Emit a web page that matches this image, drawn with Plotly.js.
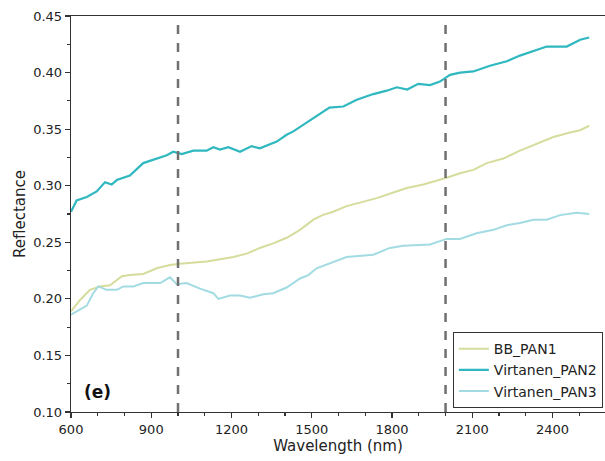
<!DOCTYPE html>
<html>
<head>
<meta charset="utf-8">
<script src="https://cdn.plot.ly/plotly-3.0.1.min.js"></script>
<style>html,body{margin:0;padding:0;background:#fff;}#chart{width:605px;height:461px;}</style>
</head>
<body>
<div id="chart"></div>
<script>
// Series names
const seriesNames = ["BB_PAN1", "Virtanen_PAN2", "Virtanen_PAN3"];

// BB_PAN1
const wlPan1 = [600, 634, 671, 708, 746, 790, 820, 870, 920, 970, 1007, 1057, 1107, 1157, 1207, 1257, 1306, 1356, 1406, 1456, 1506, 1540, 1580, 1630, 1693, 1743, 1805, 1855, 1917, 1979, 2004, 2054, 2104, 2154, 2216, 2278, 2341, 2403, 2465, 2503, 2537];
const refPan1 = [0.189, 0.199, 0.208, 0.211, 0.212, 0.220, 0.221, 0.222, 0.227, 0.230, 0.231, 0.232, 0.233, 0.235, 0.237, 0.240, 0.245, 0.249, 0.254, 0.261, 0.270, 0.274, 0.277, 0.282, 0.286, 0.289, 0.294, 0.298, 0.301, 0.305, 0.307, 0.311, 0.314, 0.320, 0.324, 0.331, 0.337, 0.343, 0.347, 0.349, 0.353];

// Virtanen_PAN2
const wlPan2 = [600, 621, 659, 696, 727, 752, 771, 820, 870, 908, 958, 982, 1014, 1057, 1107, 1132, 1157, 1188, 1232, 1275, 1306, 1369, 1406, 1431, 1481, 1531, 1566, 1618, 1668, 1730, 1780, 1818, 1857, 1898, 1942, 1979, 2017, 2054, 2104, 2166, 2229, 2278, 2328, 2378, 2453, 2503, 2537];
const refPan2 = [0.277, 0.287, 0.290, 0.295, 0.303, 0.301, 0.305, 0.309, 0.320, 0.323, 0.327, 0.330, 0.328, 0.331, 0.331, 0.334, 0.332, 0.334, 0.330, 0.335, 0.333, 0.339, 0.345, 0.348, 0.356, 0.364, 0.369, 0.370, 0.376, 0.381, 0.384, 0.387, 0.385, 0.390, 0.389, 0.392, 0.398, 0.400, 0.401, 0.406, 0.410, 0.415, 0.419, 0.423, 0.423, 0.429, 0.431];

// Virtanen_PAN3
const wlPan3 = [600, 659, 683, 702, 733, 771, 796, 833, 870, 933, 970, 995, 1032, 1082, 1132, 1151, 1194, 1232, 1269, 1319, 1356, 1406, 1456, 1487, 1518, 1550, 1580, 1630, 1730, 1792, 1842, 1904, 1942, 2004, 2054, 2116, 2179, 2229, 2278, 2328, 2378, 2428, 2490, 2537];
const refPan3 = [0.186, 0.194, 0.205, 0.211, 0.208, 0.208, 0.211, 0.211, 0.214, 0.214, 0.219, 0.213, 0.214, 0.209, 0.205, 0.200, 0.203, 0.203, 0.201, 0.204, 0.205, 0.210, 0.218, 0.221, 0.227, 0.230, 0.233, 0.237, 0.239, 0.245, 0.247, 0.248, 0.248, 0.253, 0.253, 0.258, 0.261, 0.265, 0.267, 0.270, 0.270, 0.274, 0.276, 0.275];

// Band boundaries (dashed lines)
const bandLines = [1000, 2000];

// Ticks
const xTicks = [600, 900, 1200, 1500, 1800, 2100, 2400];
const yTicks = [0.10, 0.15, 0.20, 0.25, 0.30, 0.35, 0.40, 0.45];

const colors = ["#d6dc9c", "#2fb8bf", "#a2dbe2"];
const widths = [2, 2.2, 2];

const xs = [wlPan1, wlPan2, wlPan3];
const ys = [refPan1, refPan2, refPan3];

const traces = seriesNames.map((n, i) => ({
  type: "scatter", mode: "lines", name: n,
  x: xs[i], y: ys[i],
  line: {color: colors[i], width: widths[i]}
}));

const font = "DejaVu Sans, sans-serif";

const layout = {
  width: 605, height: 461,
  margin: {l: 71, r: 0, t: 16, b: 49},
  paper_bgcolor: "#fff", plot_bgcolor: "#fff",
  font: {family: font, size: 13, color: "#222"},
  showlegend: true,
  legend: {
    x: 0.996, xanchor: "right", y: 0.01, yanchor: "bottom",
    bordercolor: "#333", borderwidth: 1, bgcolor: "#fff",
    font: {family: font, size: 14, color: "#222"},
    tracegroupgap: 0
  },
  xaxis: {
    range: [600, 2596],
    tickvals: xTicks, ticktext: xTicks.map(String),
    ticks: "outside", ticklen: 5, tickwidth: 1.2, tickcolor: "#333",
    showline: true, linecolor: "#333", linewidth: 1.3, mirror: true,
    showgrid: false, zeroline: false,
    minor: {dtick: 100, tick0: 600, ticks: "outside", ticklen: 3, tickcolor: "#333", showgrid: false},
    title: {text: "Wavelength (nm)", font: {family: font, size: 15, color: "#222"}, standoff: 4},
    tickfont: {family: font, size: 13, color: "#222"}
  },
  yaxis: {
    range: [0.10, 0.45],
    tickvals: yTicks, ticktext: yTicks.map(v => v.toFixed(2)),
    ticks: "outside", ticklen: 5, tickwidth: 1.2, tickcolor: "#333",
    showline: true, linecolor: "#333", linewidth: 1.3,
    showgrid: false, zeroline: false,
    minor: {dtick: 0.025, tick0: 0.10, ticks: "outside", ticklen: 3, tickcolor: "#333", showgrid: false},
    title: {text: "Reflectance", font: {family: font, size: 15, color: "#222"}, standoff: 4},
    tickfont: {family: font, size: 13, color: "#222"}
  },
  shapes: bandLines.map(v => ({
    type: "line", xref: "x", yref: "paper", x0: v, x1: v, y0: 0, y1: 1,
    line: {color: "#707070", width: 2.5, dash: "dash"}
  })),
  annotations: [{
    xref: "paper", yref: "paper", x: 0.02, y: 0.05, xanchor: "left", yanchor: "middle",
    text: "<b>(e)</b>", showarrow: false,
    font: {family: font, size: 17, color: "#111"}
  }]
};

Plotly.newPlot("chart", traces, layout, {displayModeBar: false, staticPlot: true});
</script>
</body>
</html>
